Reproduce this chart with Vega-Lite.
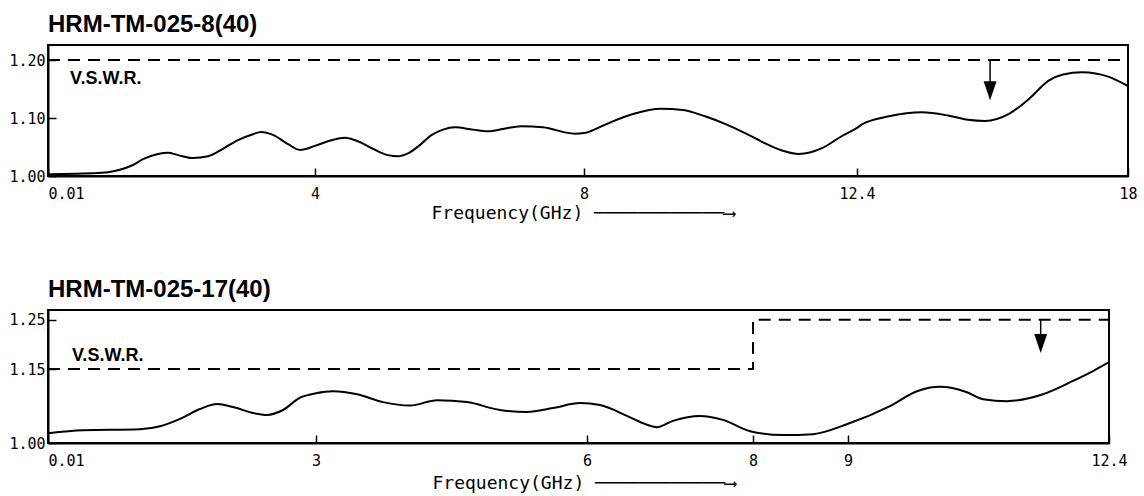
{
  "$schema": "https://vega.github.io/schema/vega-lite/v6.json",
  "background": "white",
  "padding": {"left": 7, "top": 12, "right": 8, "bottom": 0},
  "spacing": 54,
  "config": {
    "font": "Liberation Sans",
    "view": {"stroke": "black", "strokeWidth": 2},
    "axis": {
      "grid": false,
      "domainColor": "black",
      "domainWidth": 2,
      "tickColor": "black",
      "tickWidth": 1.5,
      "tickSize": -8,
      "labelFont": "DejaVu Sans Mono",
      "labelFontSize": 15,
      "labelColor": "black",
      "titleFont": "DejaVu Sans Mono",
      "titleFontSize": 18,
      "titleFontWeight": "normal",
      "titleColor": "black"
    }
  },
  "datasets": {
    "top_curve": [
      {"f":0.01,"v":1.003},{"f":0.757,"v":1.005},{"f":1.056,"v":1.010},{"f":1.280,"v":1.019},{"f":1.430,"v":1.029},{"f":1.654,"v":1.038},{"f":1.803,"v":1.040},{"f":1.953,"v":1.036},{"f":2.177,"v":1.031},{"f":2.401,"v":1.034},{"f":2.625,"v":1.047},{"f":2.849,"v":1.062},{"f":3.073,"v":1.072},{"f":3.193,"v":1.076},{"f":3.372,"v":1.071},{"f":3.597,"v":1.055},{"f":3.776,"v":1.045},{"f":4.0,"v":1.052},{"f":4.193,"v":1.060},{"f":4.446,"v":1.066},{"f":4.639,"v":1.060},{"f":4.862,"v":1.047},{"f":5.085,"v":1.036},{"f":5.234,"v":1.034},{"f":5.383,"v":1.039},{"f":5.576,"v":1.055},{"f":5.725,"v":1.070},{"f":5.903,"v":1.080},{"f":6.082,"v":1.084},{"f":6.349,"v":1.080},{"f":6.572,"v":1.077},{"f":6.795,"v":1.081},{"f":7.063,"v":1.086},{"f":7.390,"v":1.084},{"f":7.866,"v":1.073},{"f":8.0,"v":1.074},{"f":8.226,"v":1.083},{"f":8.435,"v":1.093},{"f":8.790,"v":1.107},{"f":9.241,"v":1.116},{"f":9.596,"v":1.114},{"f":9.950,"v":1.103},{"f":10.272,"v":1.090},{"f":10.579,"v":1.075},{"f":10.869,"v":1.059},{"f":11.191,"v":1.044},{"f":11.465,"v":1.038},{"f":11.836,"v":1.048},{"f":12.158,"v":1.069},{"f":12.4,"v":1.083},{"f":12.503,"v":1.089},{"f":13.061,"v":1.103},{"f":13.743,"v":1.110},{"f":14.301,"v":1.104},{"f":14.694,"v":1.097},{"f":15.045,"v":1.095},{"f":15.541,"v":1.107},{"f":15.954,"v":1.133},{"f":16.368,"v":1.165},{"f":16.657,"v":1.175},{"f":17.050,"v":1.179},{"f":17.607,"v":1.171},{"f":18.0,"v":1.155}
    ],
    "top_limit": [{"f":0.01,"v":1.2,"i":0},{"f":18,"v":1.2,"i":1}],
    "top_arrow": [{"f":15.15,"v":1.2,"v2":1.15,"h":1.147}],
    "top_label": [{"f":0.34,"v":1.159,"t":"V.S.W.R."}],
    "bottom_curve": [
      {"f":0.01,"v":1.020},{"f":0.40,"v":1.026},{"f":1.036,"v":1.028},{"f":1.260,"v":1.034},{"f":1.483,"v":1.049},{"f":1.706,"v":1.069},{"f":1.896,"v":1.079},{"f":2.074,"v":1.073},{"f":2.297,"v":1.061},{"f":2.453,"v":1.057},{"f":2.632,"v":1.067},{"f":2.822,"v":1.092},{"f":3.0,"v":1.101},{"f":3.188,"v":1.105},{"f":3.454,"v":1.099},{"f":3.742,"v":1.083},{"f":4.041,"v":1.076},{"f":4.339,"v":1.087},{"f":4.672,"v":1.083},{"f":5.037,"v":1.067},{"f":5.336,"v":1.063},{"f":5.624,"v":1.071},{"f":5.923,"v":1.081},{"f":6.157,"v":1.077},{"f":6.482,"v":1.055},{"f":6.723,"v":1.037},{"f":6.843,"v":1.032},{"f":7.036,"v":1.045},{"f":7.361,"v":1.055},{"f":7.639,"v":1.047},{"f":7.964,"v":1.024},{"f":8.316,"v":1.016},{"f":8.632,"v":1.018},{"f":9.0,"v":1.039},{"f":9.547,"v":1.075},{"f":9.899,"v":1.105},{"f":10.198,"v":1.114},{"f":10.550,"v":1.103},{"f":10.759,"v":1.089},{"f":11.071,"v":1.085},{"f":11.540,"v":1.099},{"f":11.931,"v":1.126},{"f":12.192,"v":1.146},{"f":12.4,"v":1.164}
    ],
    "bottom_limit": [{"f":0.01,"v":1.15,"i":0},{"f":8,"v":1.15,"i":1},{"f":8,"v":1.25,"i":2},{"f":12.4,"v":1.25,"i":3}],
    "bottom_arrow": [{"f":11.51,"v":1.25,"v2":1.21,"h":1.202}],
    "bottom_label": [{"f":0.278,"v":1.166,"t":"V.S.W.R."}]
  },
  "vconcat": [
    {
      "title": {"text": "HRM-TM-025-8(40)", "anchor": "start", "frame": "group", "font": "Liberation Sans", "fontSize": 24, "fontWeight": "bold", "color": "black", "offset": 8},
      "width": 1080,
      "height": 131,
      "encoding": {
        "x": {
          "field": "f", "type": "quantitative",
          "scale": {"domain": [0.01, 4, 8, 12.4, 18], "range": [0, 267, 536, 809, 1080], "nice": false, "zero": false},
          "axis": {
            "values": [0.01, 4, 8, 12.4, 18], "labelExpr": "'' + datum.value",
            "labelAlign": {"condition": {"test": "datum.value < 0.1", "value": "left"}, "value": "center"},
            "labelPadding": 18,
            "title": "Frequency(GHz) ────────────⟶",
            "titleAlign": "left", "titleX": 383, "titleY": 42, "titleBaseline": "alphabetic"
          }
        },
        "y": {
          "field": "v", "type": "quantitative",
          "scale": {"domain": [1.0, 1.226], "nice": false, "zero": false},
          "axis": {"values": [1.0, 1.1, 1.2], "format": ".2f", "title": null, "labelPadding": 11}
        }
      },
      "layer": [
        {"data": {"name": "top_limit"}, "mark": {"type": "line", "color": "black", "strokeWidth": 2, "strokeDash": [12, 8]}, "encoding": {"order": {"field": "i"}}},
        {"data": {"name": "top_curve"}, "mark": {"type": "line", "color": "black", "strokeWidth": 2, "interpolate": "monotone"}, "encoding": {}},
        {"data": {"name": "top_arrow"}, "mark": {"type": "rule", "color": "black", "strokeWidth": 1.5}, "encoding": {"y2": {"field": "v2"}}},
        {"data": {"name": "top_arrow"}, "mark": {"type": "point", "shape": "M-0.68,-1L0.68,-1L0,1Z", "filled": true, "color": "black", "opacity": 1, "size": 361}, "encoding": {"y": {"field": "h", "type": "quantitative"}}},
        {"data": {"name": "top_label"}, "mark": {"type": "text", "align": "left", "baseline": "alphabetic", "font": "Liberation Sans", "fontSize": 18, "fontWeight": "bold", "color": "black"}, "encoding": {"text": {"field": "t"}}}
      ]
    },
    {
      "title": {"text": "HRM-TM-025-17(40)", "anchor": "start", "frame": "group", "font": "Liberation Sans", "fontSize": 24, "fontWeight": "bold", "color": "black", "offset": 8},
      "width": 1061,
      "height": 133,
      "encoding": {
        "x": {
          "field": "f", "type": "quantitative",
          "scale": {"domain": [0.01, 3, 6, 8, 9, 12.4], "range": [0, 268, 539, 705, 800, 1061], "nice": false, "zero": false},
          "axis": {
            "values": [0.01, 3, 6, 8, 9, 12.4], "labelExpr": "'' + datum.value",
            "labelAlign": {"condition": {"test": "datum.value < 0.1", "value": "left"}, "value": "center"},
            "labelPadding": 18,
            "title": "Frequency(GHz) ────────────⟶",
            "titleAlign": "left", "titleX": 384, "titleY": 45, "titleBaseline": "alphabetic"
          }
        },
        "y": {
          "field": "v", "type": "quantitative",
          "scale": {"domain": [1.0, 1.27], "nice": false, "zero": false},
          "axis": {"values": [1.0, 1.15, 1.25], "format": ".2f", "title": null, "labelPadding": 11}
        }
      },
      "layer": [
        {"data": {"name": "bottom_limit"}, "mark": {"type": "line", "color": "black", "strokeWidth": 2, "strokeDash": [12, 8]}, "encoding": {"order": {"field": "i"}}},
        {"data": {"name": "bottom_curve"}, "mark": {"type": "line", "color": "black", "strokeWidth": 2, "interpolate": "monotone"}, "encoding": {}},
        {"data": {"name": "bottom_arrow"}, "mark": {"type": "rule", "color": "black", "strokeWidth": 1.5}, "encoding": {"y2": {"field": "v2"}}},
        {"data": {"name": "bottom_arrow"}, "mark": {"type": "point", "shape": "M-0.68,-1L0.68,-1L0,1Z", "filled": true, "color": "black", "opacity": 1, "size": 361}, "encoding": {"y": {"field": "h", "type": "quantitative"}}},
        {"data": {"name": "bottom_label"}, "mark": {"type": "text", "align": "left", "baseline": "alphabetic", "font": "Liberation Sans", "fontSize": 18, "fontWeight": "bold", "color": "black"}, "encoding": {"text": {"field": "t"}}}
      ]
    }
  ]
}
